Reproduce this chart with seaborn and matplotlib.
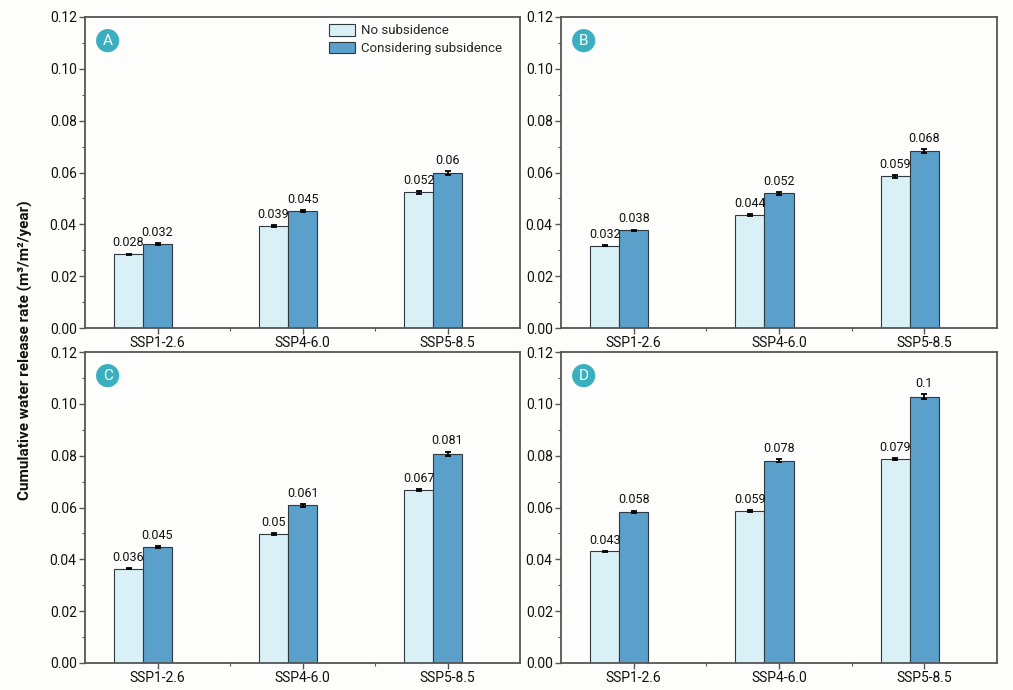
import numpy as np
import pandas as pd
import matplotlib
matplotlib.use("Agg")
import matplotlib.pyplot as plt
import seaborn as sns
from matplotlib.ticker import MultipleLocator, FixedLocator
from matplotlib.container import BarContainer

sns.set_theme(style="ticks")
plt.rcParams['font.family'] = ['Roboto', 'DejaVu Sans']

scenarios = ["SSP1-2.6", "SSP4-6.0", "SSP5-8.5"]
conditions = ["No subsidence", "Considering subsidence"]
panels = ["A", "B", "C", "D"]

# values per panel: [no subsidence x3], [considering subsidence x3]
A_no = [0.0284, 0.0393, 0.0523]
A_sub = [0.0324, 0.0451, 0.0598]
B_no = [0.0318, 0.0437, 0.0585]
B_sub = [0.0377, 0.0519, 0.0682]
C_no = [0.0364, 0.0498, 0.0667]
C_sub = [0.0448, 0.0608, 0.0808]
D_no = [0.0431, 0.0587, 0.0787]
D_sub = [0.0583, 0.0781, 0.1028]

A_no_err = [0.0003, 0.0003, 0.0006]
A_sub_err = [0.0003, 0.0004, 0.0006]
B_no_err = [0.0003, 0.0004, 0.0006]
B_sub_err = [0.0003, 0.0005, 0.0008]
C_no_err = [0.0003, 0.0003, 0.0005]
C_sub_err = [0.0004, 0.0005, 0.0008]
D_no_err = [0.0002, 0.0003, 0.0005]
D_sub_err = [0.0005, 0.0007, 0.0011]

A_no_lab = ["0.028", "0.039", "0.052"]
A_sub_lab = ["0.032", "0.045", "0.06"]
B_no_lab = ["0.032", "0.044", "0.059"]
B_sub_lab = ["0.038", "0.052", "0.068"]
C_no_lab = ["0.036", "0.05", "0.067"]
C_sub_lab = ["0.045", "0.061", "0.081"]
D_no_lab = ["0.043", "0.059", "0.079"]
D_sub_lab = ["0.058", "0.078", "0.1"]

y_ticks = [0.00, 0.02, 0.04, 0.06, 0.08, 0.10, 0.12]
y_tick_labels = ["0.00", "0.02", "0.04", "0.06", "0.08", "0.10", "0.12"]

panel_data = {
    "A": (A_no, A_sub, A_no_err, A_sub_err, A_no_lab, A_sub_lab),
    "B": (B_no, B_sub, B_no_err, B_sub_err, B_no_lab, B_sub_lab),
    "C": (C_no, C_sub, C_no_err, C_sub_err, C_no_lab, C_sub_lab),
    "D": (D_no, D_sub, D_no_err, D_sub_err, D_no_lab, D_sub_lab),
}

light = "#DAF0F7"
dark = "#5B9FCB"
badge = "#3AAFBF"
spine_c = "#555555"
bg = "#FDFDFB"

W, H = 1013, 690
fig = plt.figure(figsize=(W / 100, H / 100), dpi=100, facecolor=bg)

boxes = {
    "A": (85, 17, 520, 328),
    "B": (561, 17, 997, 328),
    "C": (85, 352, 520, 663),
    "D": (561, 352, 997, 663),
}

for p in panels:
    x0, y0, x1, y1 = boxes[p]
    ax = fig.add_axes([x0 / W, 1 - y1 / H, (x1 - x0) / W, (y1 - y0) / H])
    ax.set_facecolor(bg)
    no, sub, no_e, sub_e, no_l, sub_l = panel_data[p]
    df = pd.DataFrame({
        "scenario": scenarios * 2,
        "condition": [conditions[0]] * 3 + [conditions[1]] * 3,
        "value": no + sub,
    })
    sns.barplot(data=df, x="scenario", y="value", hue="condition",
                order=scenarios, hue_order=conditions,
                palette=[light, dark], width=0.4, edgecolor="#2f3a40",
                linewidth=0.8, saturation=1, ax=ax, legend=(p == "A"))
    errs = [no_e, sub_e]
    labs = [no_l, sub_l]
    bar_conts = [c for c in list(ax.containers) if isinstance(c, BarContainer)]
    for ci, cont in enumerate(bar_conts):
        xs = [b.get_x() + b.get_width() / 2 for b in cont]
        hs = [b.get_height() for b in cont]
        ax.errorbar(xs, hs, yerr=errs[ci], fmt="none", ecolor="black",
                    elinewidth=1.3, capsize=2.3, capthick=1.3, zorder=5)
        for x, h, e, t in zip(xs, hs, errs[ci], labs[ci]):
            ax.annotate(t, (x, h + e), xytext=(0, 3), textcoords="offset points",
                        ha="center", va="bottom", fontsize=9, color="#111111")
    # category ticks sit under the second bar of each group, as in the source figure
    ax.set_xlim(-0.4, 2.6)
    ax.set_xticks([0.1, 1.1, 2.1])
    ax.set_xticklabels(scenarios)
    ax.xaxis.set_minor_locator(FixedLocator([0.6, 1.6]))
    ax.set_ylim(0, 0.12)
    ax.set_yticks(y_ticks)
    ax.set_yticklabels(y_tick_labels)
    ax.yaxis.set_minor_locator(MultipleLocator(0.01))
    ax.set_xlabel("")
    ax.set_ylabel("")
    ax.tick_params(axis="both", which="major", direction="out", length=4,
                   width=1, color=spine_c, labelsize=10, labelcolor="#111111", pad=2)
    ax.tick_params(axis="both", which="minor", direction="out", length=2.5,
                   width=0.8, color=spine_c)
    for s in ax.spines.values():
        s.set_color(spine_c)
        s.set_linewidth(1.3)
    ax.text(0.052, 0.924, p, transform=ax.transAxes, ha="center", va="center",
            color="white", fontsize=11,
            bbox=dict(boxstyle="circle,pad=0.3", fc=badge, ec="none"))
    if p == "A":
        leg = ax.legend(loc="upper right", bbox_to_anchor=(0.975, 1.0),
                        frameon=False, fontsize=9.5, handlelength=2.0,
                        handleheight=0.95, handletextpad=0.45, labelspacing=0.35,
                        borderaxespad=0.15)
        for h in leg.legend_handles:
            h.set_edgecolor("#2f3a40")
            h.set_linewidth(0.8)

fig.text(25 / W, 1 - 350 / H, "Cumulative water release rate (m³/m²/year)",
         rotation=90, ha="center", va="center", fontsize=11,
         fontweight="bold", color="#111111")

fig.savefig("out.png", dpi=100, facecolor=bg)
